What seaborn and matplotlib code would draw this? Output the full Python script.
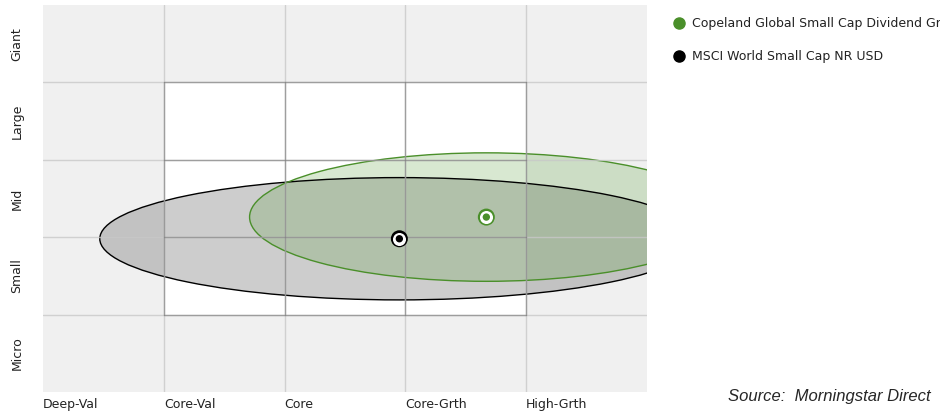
import matplotlib
matplotlib.use("Agg")
import matplotlib.pyplot as plt
from matplotlib.patches import Ellipse, Rectangle
from matplotlib.lines import Line2D
import seaborn as sns
import pandas as pd

# style box data (x = value->growth, y = micro->giant, grid units)
style_labels = ['Deep-Val', 'Core-Val', 'Core', 'Core-Grth', 'High-Grth']
size_labels = ['Micro', 'Small', 'Mid', 'Large', 'Giant']
names = ['Copeland Global Small Cap Dividend Gr', 'MSCI World Small Cap NR USD']
colors = ['#4a8f2a', '#000000']
center_x = [3.67, 2.95]
center_y = [2.26, 1.98]
spread_x = [1.96, 2.48]   # half-width of ownership zone
spread_y = [0.83, 0.79]   # half-height of ownership zone

sns.set_style("white")
plt.rcParams['font.family'] = ['DejaVu Sans']

fig = plt.figure(figsize=(9.4, 4.13), dpi=100)
ax = fig.add_axes([43/940, 1 - 392/413, 604/940, 387/413])
ax.set_facecolor('#f0f0f0')
ax.set_xlim(0, 5)
ax.set_ylim(0, 5)

# white centre box
ax.add_patch(Rectangle((1, 1), 3, 3, facecolor='white', edgecolor='none', zorder=0.5))

# ownership zones
fills = ['#4f9a2e', '#5a5a5a']
alphas = [0.22, 0.30]
order = [1, 0]
for i in order:
    e = Ellipse((center_x[i], center_y[i]), 2 * spread_x[i], 2 * spread_y[i],
                facecolor=fills[i], alpha=alphas[i], edgecolor='none', zorder=1)
    ax.add_patch(e)
    e.set_clip_path(ax.patch)
    e2 = Ellipse((center_x[i], center_y[i]), 2 * spread_x[i], 2 * spread_y[i],
                 facecolor='none', edgecolor=colors[i], lw=1.0, zorder=1.1)
    ax.add_patch(e2)
    e2.set_clip_path(ax.patch)

# grid lines
for v in [1, 2, 3, 4]:
    ax.plot([v, v], [0, 5], color='#c8c8c8', lw=1, alpha=0.8, zorder=2)
    ax.plot([0, 5], [v, v], color='#c8c8c8', lw=1, alpha=0.8, zorder=2)
    ax.plot([v, v], [1, 4], color='#7c7c7c', lw=1, alpha=0.6, zorder=2.1)
    ax.plot([1, 4], [v, v], color='#7c7c7c', lw=1, alpha=0.6, zorder=2.1)

# centroid points
df = pd.DataFrame({'x': center_x, 'y': center_y, 'name': names})
pal = dict(zip(names, colors))
sns.scatterplot(data=df, x='x', y='y', hue='name', palette=pal, s=150,
                edgecolor='none', legend=False, ax=ax, zorder=3)
ax.scatter(center_x, center_y, s=70, color='white', zorder=4)
sns.scatterplot(data=df, x='x', y='y', hue='name', palette=pal, s=28,
                edgecolor='none', legend=False, ax=ax, zorder=5)

ax.set_xticks(range(5))
ax.set_xticklabels(style_labels, ha='left', fontsize=9, color='#222222')
ax.set_yticks([0.5, 1.5, 2.5, 3.5, 4.5])
ax.set_yticklabels(size_labels, rotation=90, va='center', fontsize=9, color='#222222')
ax.tick_params(length=0, pad=4)
ax.tick_params(axis='y', pad=14)
ax.set_xlabel('')
ax.set_ylabel('')
for s in ax.spines.values():
    s.set_visible(False)

handles = [Line2D([], [], marker='o', ls='', color=c, markersize=8) for c in colors]
fig.legend(handles, names, loc='upper left', bbox_to_anchor=(665/940, 1 - 12/413),
           frameon=False, fontsize=9, handletextpad=0.3, labelspacing=1.6,
           handlelength=1.5, borderaxespad=0, labelcolor='#222222')

fig.text(931/940, 1 - 397/413, 'Source:  Morningstar Direct', ha='right', va='center',
         fontsize=12, style='italic', family='Liberation Sans')

fig.savefig('out.png', dpi=100)
